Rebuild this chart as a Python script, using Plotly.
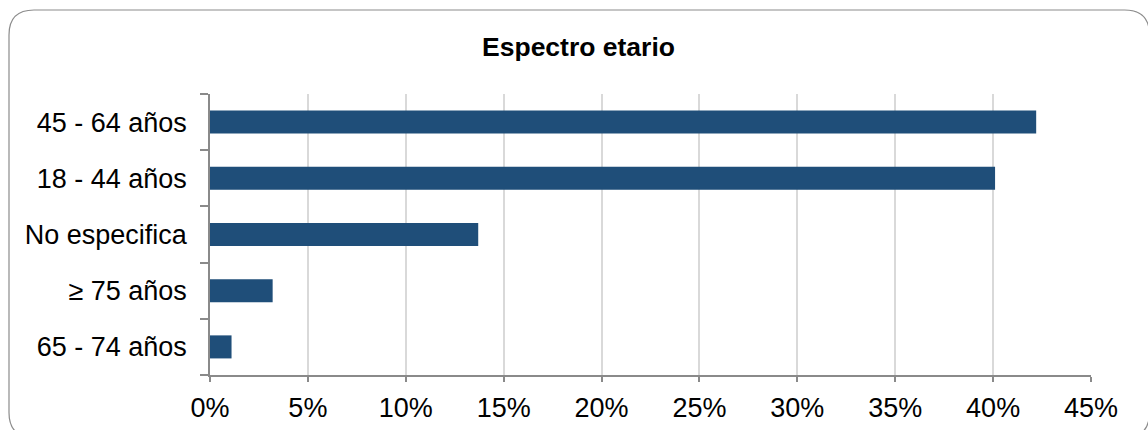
import plotly.graph_objects as go

# ---- data (top to bottom as displayed) ----
categories = ["45 - 64 años", "18 - 44 años", "No especifica", "≥ 75 años", "65 - 74 años"]
values = [42.2, 40.1, 13.7, 3.2, 1.1]
x_ticks = [0, 5, 10, 15, 20, 25, 30, 35, 40, 45]
title_text = "Espectro etario"

W, H = 1148, 430
ML, MR, MT, MB = 210, 57, 94, 55
PW, PH = W - ML - MR, H - MT - MB

FONT = "Arial, 'Liberation Sans', sans-serif"
AXIS_COLOR = "#8a8a8a"
GRID_COLOR = "#d9d9d9"
BAR_COLOR = "#1F4E79"


def px_x(p):
    return (p - ML) / PW


def px_y(p):
    return (H - MB - p) / PH


fig = go.Figure()
fig.add_trace(go.Bar(
    y=categories, x=values, orientation="h",
    marker=dict(color=BAR_COLOR, line=dict(width=0)),
    hoverinfo="skip",
))

# rounded outer border
x0, x1 = px_x(9), px_x(1149.5)
y0, y1 = px_y(437.5), px_y(10)
rx, ry = 25 / PW, 25 / PH
path = (
    f"M {x0 + rx},{y1} L {x1 - rx},{y1} Q {x1},{y1} {x1},{y1 - ry} "
    f"L {x1},{y0 + ry} Q {x1},{y0} {x1 - rx},{y0} "
    f"L {x0 + rx},{y0} Q {x0},{y0} {x0},{y0 + ry} "
    f"L {x0},{y1 - ry} Q {x0},{y1} {x0 + rx},{y1} Z"
)

fig.update_layout(
    width=W, height=H,
    margin=dict(l=ML, r=MR, t=MT, b=MB, pad=0, autoexpand=False),
    paper_bgcolor="white", plot_bgcolor="white",
    showlegend=False,
    bargap=0.59,
    font=dict(family=FONT, size=27, color="#000000"),
    title=dict(
        text=f"<b>{title_text}</b>",
        font=dict(family=FONT, size=26.5, color="#000000"),
        x=578.5 / W, xref="container", xanchor="center",
        y=1 - 47 / H, yref="container", yanchor="middle",
    ),
    xaxis=dict(
        range=[0, 45], tickvals=x_ticks, ticktext=[f"{v}%" for v in x_ticks],
        showgrid=True, gridcolor=GRID_COLOR, gridwidth=1.5,
        showline=True, linecolor=AXIS_COLOR, linewidth=1.5,
        ticks="outside", ticklen=5, tickcolor=AXIS_COLOR, tickwidth=1.5,
        zeroline=False, ticklabelstandoff=3, automargin=False,
        tickfont=dict(family=FONT, size=27, color="#000000"),
    ),
    xaxis2=dict(
        overlaying="x", range=[0, 45], tickvals=x_ticks, showticklabels=False,
        ticks="inside", ticklen=8, tickcolor=AXIS_COLOR, tickwidth=1.5,
        showgrid=False, showline=False, zeroline=False, automargin=False,
    ),
    yaxis=dict(
        categoryorder="array", categoryarray=categories[::-1],
        range=[-0.5, 4.5], tickson="boundaries",
        showgrid=False, showline=True, linecolor=AXIS_COLOR, linewidth=1.5,
        ticks="outside", ticklen=8, tickcolor=AXIS_COLOR, tickwidth=1.5,
        zeroline=False, ticklabelstandoff=16, automargin=False,
        tickfont=dict(family=FONT, size=27, color="#000000"),
    ),
    yaxis2=dict(
        overlaying="y", range=[0, 5], dtick=1, tick0=0, showticklabels=False,
        ticks="inside", ticklen=7, tickcolor=AXIS_COLOR, tickwidth=1.5,
        showgrid=False, showline=False, zeroline=False, automargin=False,
    ),
    shapes=[dict(type="path", path=path, xref="paper", yref="paper",
                 line=dict(color="#8c8c8c", width=1.2), fillcolor="rgba(0,0,0,0)",
                 layer="above")],
)

fig.write_html("out.html")
